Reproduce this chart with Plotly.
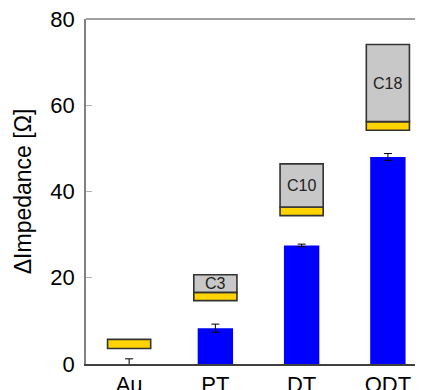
import plotly.graph_objects as go

categories = ["Au", "PT", "DT", "ODT"]
delta_impedance = [0.0, 8.3, 27.5, 48.0]
delta_error = [1.2, 0.95, 0.3, 0.8]
gold_bottom = [3.6, 14.7, 34.4, 54.2]
gold_top = [5.7, 16.6, 36.4, 56.2]
grey_top = [None, 20.7, 46.4, 74.1]
chain_labels = ["", "C3", "C10", "C18"]
y_ticks = [0, 20, 40, 60, 80]

FONT = "Liberation Sans, Arial, sans-serif"
OUTLINE = "#333333"

fig = go.Figure()

fig.add_trace(go.Bar(
    x=categories, y=delta_impedance, width=0.41,
    marker=dict(color="#0000FF", line=dict(width=0)),
    error_y=dict(type="data", array=delta_error, visible=True,
                 color="#000000", thickness=1, width=4),
    showlegend=False, hoverinfo="skip",
))

gold_h = [t - b for t, b in zip(gold_top, gold_bottom)]
fig.add_trace(go.Bar(
    x=categories, y=gold_h, base=gold_bottom, width=0.5,
    marker=dict(color="#FFD400", line=dict(color=OUTLINE, width=1.6)),
    showlegend=False, hoverinfo="skip",
))

gx, gb, gh = [], [], []
for c, b, t in zip(categories, gold_top, grey_top):
    if t is not None:
        gx.append(c); gb.append(b); gh.append(t - b)
fig.add_trace(go.Bar(
    x=gx, y=gh, base=gb, width=0.5,
    marker=dict(color="#C8C8C8", line=dict(color=OUTLINE, width=1.6)),
    showlegend=False, hoverinfo="skip",
))

for c, b, t, lab in zip(categories, gold_top, grey_top, chain_labels):
    if t is not None and lab:
        fig.add_annotation(x=c, y=(b + t) / 2, text=lab, showarrow=False,
                           font=dict(family=FONT, size=16, color="#222222"),
                           xref="x", yref="y")

fig.update_layout(
    width=423, height=390,
    margin=dict(l=78, r=0, t=11, b=34),
    paper_bgcolor="white", plot_bgcolor="white",
    barmode="overlay",
    font=dict(family=FONT, size=22, color="#000000"),
    xaxis=dict(
        type="category", range=[-0.5, 3.5],
        showline=True, linecolor="#404040", linewidth=1.5,
        mirror=False, ticks="", showgrid=False, zeroline=False,
        tickfont=dict(size=22, color="#000000"),
        ticklabeloverflow="allow",
    ),
    yaxis=dict(
        range=[0, 80], tickvals=y_ticks,
        showline=True, linecolor="#808080", linewidth=1.5,
        ticks="inside", ticklen=6, tickcolor="#b0b0b0", tickwidth=1,
        showgrid=False, zeroline=False,
        tickfont=dict(size=22, color="#000000"),
        ticklabeloverflow="allow", ticklabelstandoff=5,
        title=dict(text="ΔImpedance [Ω]", font=dict(size=23, color="#000000"), standoff=12),
    ),
)

fig.add_shape(type="line", xref="paper", yref="paper", x0=0, x1=1, y0=1, y1=1,
              line=dict(color="#808080", width=1.5))

fig.write_html("out.html")
